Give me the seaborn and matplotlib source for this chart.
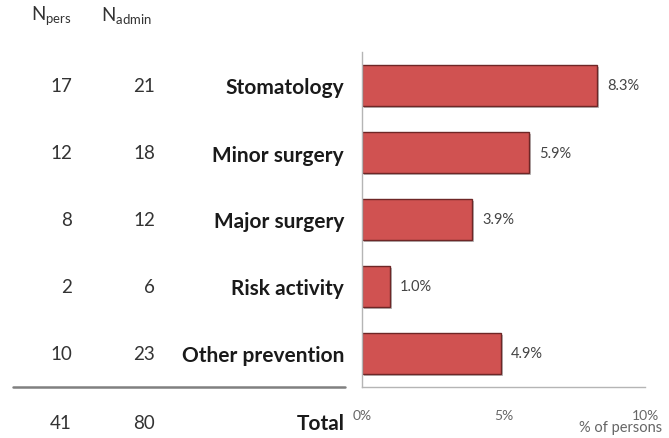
import matplotlib
matplotlib.use("Agg")
import matplotlib.pyplot as plt
import matplotlib.transforms as mtransforms
import matplotlib.patheffects as pe
from matplotlib.lines import Line2D
import seaborn as sns
import pandas as pd

# Data
categories = ["Stomatology", "Minor surgery", "Major surgery", "Risk activity", "Other prevention"]
pct_persons = [8.3, 5.9, 3.9, 1.0, 4.9]
n_pers = [17, 12, 8, 2, 10]
n_admin = [21, 18, 12, 6, 23]
total_pers = 41
total_admin = 80
x_ticks = [0, 5, 10]
x_tick_labels = ["0%", "5%", "10%"]

df = pd.DataFrame({"category": categories, "pct": pct_persons})

sns.set_theme(style="white")
plt.rcParams["font.family"] = ["Lato", "DejaVu Sans"]

W, H = 669, 439
fig = plt.figure(figsize=(W / 100, H / 100), dpi=100)
ax = fig.add_axes([362 / W, 1 - 388 / H, (645 - 362) / W, (388 - 53) / H])

sns.barplot(data=df, x="pct", y="category", orient="h", ax=ax,
            color="#D05251", saturation=1, width=0.62,
            edgecolor="#6e2626", linewidth=1.0)
for bar in ax.patches:
    bar.set_path_effects([pe.SimplePatchShadow(offset=(1.5, -1.5),
                                               shadow_rgbFace="#777777", alpha=0.5),
                          pe.Normal()])

ax.set_xlim(0, 10)
ax.set_ylim(4.5, -0.5)
ax.set_xlabel("")
ax.set_ylabel("")

# axes styling
for side in ["top", "right"]:
    ax.spines[side].set_visible(False)
for side in ["left", "bottom"]:
    ax.spines[side].set_color("#b5b5b5")
    ax.spines[side].set_linewidth(1.0)

ax.set_xticks(x_ticks)
ax.set_xticklabels(x_tick_labels)
ax.tick_params(axis="x", length=3, color="#b5b5b5", direction="out",
               labelsize=10, labelcolor="#666666", pad=13)

ax.set_yticks(range(len(categories)))
ax.set_yticklabels(categories, fontweight="bold", fontsize=15, color="#1a1a1a")
ax.tick_params(axis="y", which="major", length=0, pad=13)
ax.set_yticks([i - 0.5 for i in range(len(categories) + 1)], minor=True)
ax.tick_params(axis="y", which="minor", length=3, color="#b5b5b5", direction="out")

# value labels
for i, v in enumerate(pct_persons):
    ax.text(v + 0.35, i, f"{v:.1f}%", va="center", ha="left",
            fontsize=10.5, color="#444444")

# left-hand table: counts per category
tr = mtransforms.blended_transform_factory(fig.transFigure, ax.transData)
x_pers = 72 / W
x_admin = 155 / W
num_size = 13.5
for i in range(len(categories)):
    ax.text(x_pers, i, str(n_pers[i]), transform=tr, ha="right", va="center",
            fontsize=num_size, color="#333333", clip_on=False)
    ax.text(x_admin, i, str(n_admin[i]), transform=tr, ha="right", va="center",
            fontsize=num_size, color="#333333", clip_on=False)

# headers
ax.text(31 / W, -1.05, r"N$_{\mathregular{pers}}$", transform=tr, ha="left", va="center",
        fontsize=13.5, color="#333333", clip_on=False)
ax.text(101 / W, -1.05, r"N$_{\mathregular{admin}}$", transform=tr, ha="left", va="center",
        fontsize=13.5, color="#333333", clip_on=False)

# separator line and total row
fig.add_artist(Line2D([13 / W, 345 / W], [1 - 388 / H, 1 - 388 / H],
                      transform=fig.transFigure, color="#808080", linewidth=1.8))
y_total = 5.03
ax.text(x_pers, y_total, str(total_pers), transform=tr, ha="right", va="center",
        fontsize=num_size, color="#333333", clip_on=False)
ax.text(x_admin, y_total, str(total_admin), transform=tr, ha="right", va="center",
        fontsize=num_size, color="#333333", clip_on=False)
ax.text(345 / W, y_total, "Total", transform=tr, ha="right", va="center",
        fontsize=15, fontweight="bold", color="#1a1a1a", clip_on=False)

fig.text(662 / W, 1 - 428 / H, "% of persons", ha="right", va="center",
         fontsize=10.5, color="#666666")

fig.savefig("out.png", dpi=100, facecolor="white")
